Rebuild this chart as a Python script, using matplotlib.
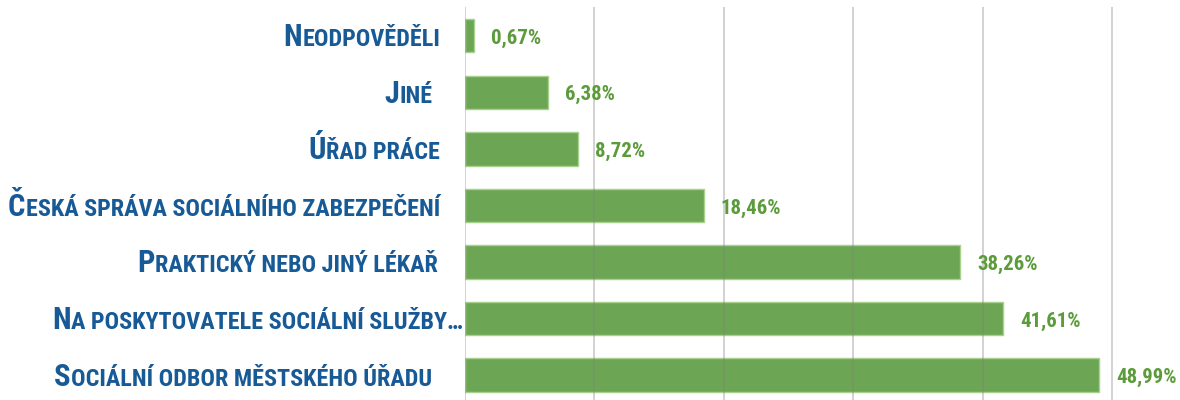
import matplotlib
matplotlib.use("Agg")
import matplotlib.pyplot as plt
from matplotlib import font_manager as fm
from matplotlib.transforms import IdentityTransform

# ---- data ----
categories = [
    "Neodpověděli",
    "Jiné",
    "Úřad práce",
    "Česká správa sociálního zabezpečení",
    "Praktický nebo jiný lékař",
    "Na poskytovatele sociální služby…",
    "Sociální odbor městského úřadu",
]
values = [0.67, 6.38, 8.72, 18.46, 38.26, 41.61, 48.99]
value_labels = ["0,67%", "6,38%", "8,72%", "18,46%", "38,26%", "41,61%", "48,99%"]
grid_ticks = [0, 10, 20, 30, 40, 50]

# ---- layout (pixels) ----
W, H = 1180, 400
label_right_px = [440, 433, 440, 440, 438, 463, 432]


def pick_font(cands):
    for c in cands:
        try:
            fm.findfont(fm.FontProperties(family=c, weight="bold"), fallback_to_default=False)
            return c
        except Exception:
            continue
    return "DejaVu Sans"


FONT = pick_font(["Liberation Sans Narrow", "DejaVu Sans Condensed", "Roboto Condensed",
                  "Liberation Sans", "Roboto"])

BAR_C = "#6ca654"
EDGE_C = "#a9d18e"
VAL_C = "#5b9b3a"
LAB_C = "#175a96"

fig = plt.figure(figsize=(W / 100, H / 100), dpi=100)
ax = fig.add_axes([465 / W, -3.4 / H, 715 / W, 396.0 / H])
n = len(categories)
ypos = list(range(n))
ax.barh(ypos, values, height=0.59, color=BAR_C, edgecolor=EDGE_C, linewidth=1, zorder=2)
ax.set_ylim(n - 0.5, -0.5)
ax.set_xlim(0, 715 / 12.94)
for t in grid_ticks:
    ax.axvline(t, color="#808080", alpha=0.35, lw=1.4, zorder=3)
for s in ax.spines.values():
    s.set_visible(False)
ax.set_xticks([])
ax.set_yticks([])

fig.canvas.draw()
renderer = fig.canvas.get_renderer()
ident = IdentityTransform()

for i, (cat, v, vl) in enumerate(zip(categories, values, value_labels)):
    cx, cy = ax.transData.transform((v, i))
    # value label
    fig.text(cx + 17, cy - 8, vl, transform=ident, ha="left", va="baseline",
             fontsize=15, fontweight="bold", color=VAL_C, family=FONT)
    # category label as small caps
    base = cy - 10.5
    xr = label_right_px[i]
    rest = fig.text(xr, base, cat[1:].upper(), transform=ident, ha="right", va="baseline",
                    fontsize=17.4, fontweight="bold", color=LAB_C, family=FONT)
    bb = rest.get_window_extent(renderer)
    fig.text(bb.x0 - 0.5, base, cat[0].upper(), transform=ident, ha="right", va="baseline",
             fontsize=22, fontweight="bold", color=LAB_C, family=FONT)

fig.savefig("out.png", dpi=100)
